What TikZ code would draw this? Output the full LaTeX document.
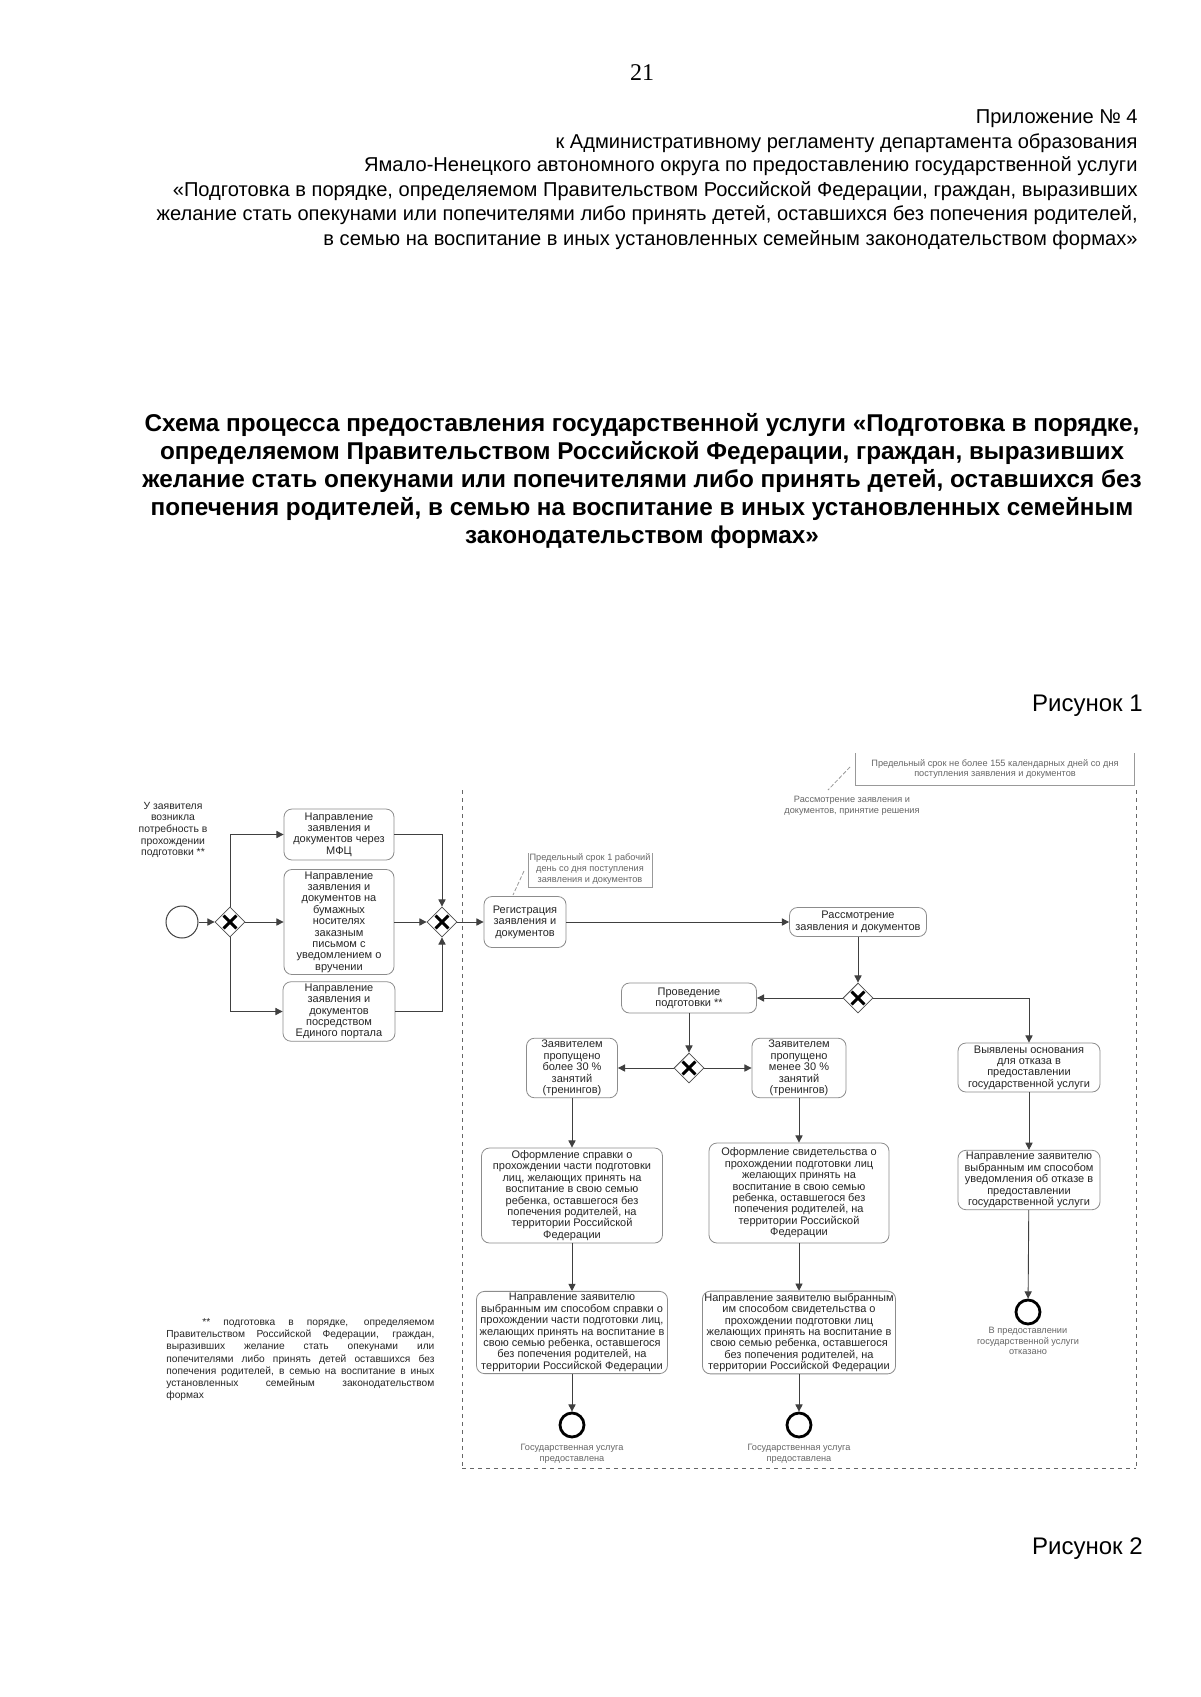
\documentclass[tikz,border=0pt]{standalone}
\usepackage{fontspec}
\setmainfont{Liberation Sans}
\newfontfamily\serifnum{Liberation Serif}
\usetikzlibrary{shapes.geometric,arrows.meta}
\tikzset{
  hdr/.style={anchor=base east, inner sep=0pt, font=\fontsize{10.05}{12}\selectfont},
  ttl/.style={anchor=base, inner sep=0pt, font=\fontsize{12.15}{14}\selectfont\bfseries},
  box/.style={draw=black!45, rounded corners=4pt, line width=0.4pt, align=center,
    font=\fontsize{5.5}{5.7}\selectfont, text=black!85, inner sep=1pt},
  gw/.style={diamond, draw=black!70, line width=0.4pt, minimum width=15pt, minimum height=15pt,
    inner sep=0pt, fill=white,
    path picture={\draw[line width=1.5pt, black]
      ([shift={(-3.2pt,-3.2pt)}]path picture bounding box.center) -- ([shift={(3.2pt,3.2pt)}]path picture bounding box.center)
      ([shift={(-3.2pt,3.2pt)}]path picture bounding box.center) -- ([shift={(3.2pt,-3.2pt)}]path picture bounding box.center);}},
  startev/.style={circle, draw=black!75, line width=0.5pt, minimum size=16pt, inner sep=0pt},
  endev/.style={circle, draw=black, line width=1.4pt, minimum size=12pt, inner sep=0pt},
  flow/.style={draw=black!75, line width=0.45pt, -{Triangle[length=3.6pt,width=3.6pt]}},
  lbl/.style={font=\fontsize{4.6}{5.4}\selectfont, text=black!60, align=center, inner sep=0pt},
  small/.style={font=\fontsize{5.2}{5.85}\selectfont, text=black!85, align=center, inner sep=0pt},
  lane/.style={draw=black!60, dash pattern=on 2pt off 2pt, line width=0.4pt},
  ann/.style={draw=black!40, line width=0.4pt},
}
\begin{document}
\begin{tikzpicture}[x=0.5pt,y=-0.5pt]
\useasboundingbox (0,0) rectangle (1200,1697);
\fill[white] (0,0) rectangle (1200,1697);

% page number
\node[anchor=base, inner sep=0pt, font=\serifnum\fontsize{12}{14}\selectfont] (pg) at (642,80) {21};

% header
\node[hdr] (h1) at (1138,123) {Приложение № 4};
\node[hdr] (h2) at (1138,148) {к Административному регламенту департамента образования};
\node[hdr] (h3) at (1138,171.5) {Ямало-Ненецкого автономного округа по предоставлению государственной услуги};
\node[hdr] (h4) at (1138,196) {«Подготовка в порядке, определяемом Правительством Российской Федерации, граждан, выразивших};
\node[hdr] (h5) at (1138,220) {желание стать опекунами или попечителями либо принять детей, оставшихся без попечения родителей,};
\node[hdr] (h6) at (1138,245) {в семью на воспитание в иных установленных семейным законодательством формах»};

% title
\node[ttl] (t1) at (642,431) {Схема процесса предоставления государственной услуги «Подготовка в порядке,};
\node[ttl] (t2) at (642,459) {определяемом Правительством Российской Федерации, граждан, выразивших};
\node[ttl] (t3) at (642,487) {желание стать опекунами или попечителями либо принять детей, оставшихся без};
\node[ttl] (t4) at (642,515) {попечения родителей, в семью на воспитание в иных установленных семейным};
\node[ttl] (t5) at (642,543.5) {законодательством формах»};

\node[anchor=base east, inner sep=0pt, font=\fontsize{12}{14}\selectfont] (fig1) at (1143,711) {Рисунок 1};
\node[anchor=base east, inner sep=0pt, font=\fontsize{12}{14}\selectfont] (fig2) at (1143,1554) {Рисунок 2};

% lanes
\draw[lane] (462,790) -- (462,1468);
\draw[lane] (1136,790) -- (1136,1468);
\draw[lane] (462,1468) -- (1136,1468);

% annotation top right
\node[lbl] (ann2) at (995,769) {Предельный срок не более 155 календарных дней со дня\\поступления заявления и документов};
\draw[ann] (855,753) -- (855,785) -- (1134,785) -- (1134,753);
\coordinate (a2s) at (850,767);
\coordinate (a2e) at (828,790);
\draw[ann, dash pattern=on 2pt off 1pt] (a2s) -- (a2e);
\node[lbl] (lanelbl) at (852,806) {Рассмотрение заявления и\\документов, принятие решения};

% first lane
\node[small] (appl) at (173,830) {У заявителя\\возникла\\потребность в\\прохождении\\подготовки **};
\node[startev] (start) at (182,922) {};
\node[gw] (gw1) at (230,922) {};
\node[box, minimum width=55pt, minimum height=25.5pt] (b1) at (339,834.5) {Направление\\заявления и\\документов через\\МФЦ};
\node[box, minimum width=55pt, minimum height=52.5pt] (b2) at (339,922) {Направление\\заявления и\\документов на\\бумажных\\носителях\\заказным\\письмом с\\уведомлением о\\вручении};
\node[box, minimum width=56pt, minimum height=28.5pt] (b3) at (339,1011.5) {Направление\\заявления и\\документов\\посредством\\Единого портала};
\node[gw] (gw2) at (442,922) {};

\draw[flow] (start) -- (gw1);
\draw[flow] (gw1.north) |- (b1.west);
\draw[flow] (gw1) -- (b2);
\draw[flow] (gw1.south) |- (b3.west);
\draw[flow] (b1.east) -| (gw2.north);
\draw[flow] (b2) -- (gw2);
\draw[flow] (b3.east) -| (gw2.south);

% registration
\node[box, minimum width=41pt, minimum height=25.5pt] (reg) at (525,922) {Регистрация\\заявления и\\документов};
\node[lbl] (ann1) at (590,869) {Предельный срок 1 рабочий\\день со дня поступления\\заявления и документов};
\draw[ann] (528,853) -- (528,887) -- (652,887) -- (652,853);
\coordinate (a1s) at (524,871);
\coordinate (a1e) at (513,895);
\draw[ann, dash pattern=on 2pt off 1pt] (a1s) -- (a1e);
\draw[flow] (gw2) -- (reg);

% consideration
\node[box, minimum width=68.5pt, minimum height=14.5pt] (ras) at (858,922) {Рассмотрение\\заявления и документов};
\draw[flow] (reg) -- (ras);
\node[gw] (gw3) at (858,998) {};
\draw[flow] (ras) -- (gw3);

\node[box, minimum width=67.5pt, minimum height=15pt] (prov) at (689,998) {Проведение\\подготовки **};
\draw[flow] (gw3) -- (prov);

\node[box, minimum width=71pt, minimum height=24.5pt] (refuse) at (1029,1067.5) {Выявлены основания\\для отказа в\\предоставлении\\государственной услуги};
\draw[flow] (gw3.east) -| (refuse.north);

\node[gw] (gw4) at (689,1068) {};
\draw[flow] (prov) -- (gw4);
\node[box, minimum width=45.5pt, minimum height=29pt] (less) at (572,1068) {Заявителем\\пропущено\\более 30 \%\\занятий\\(тренингов)};
\node[box, minimum width=47pt, minimum height=29pt] (more) at (799,1068) {Заявителем\\пропущено\\менее 30 \%\\занятий\\(тренингов)};
\draw[flow] (gw4) -- (less);
\draw[flow] (gw4) -- (more);

\node[box, minimum width=90.5pt, minimum height=47.5pt] (spr) at (572,1195.5) {Оформление справки о\\прохождении части подготовки\\лиц, желающих принять на\\воспитание в свою семью\\ребенка, оставшегося без\\попечения родителей, на\\территории Российской\\Федерации};
\node[box, minimum width=90pt, minimum height=50pt] (svid) at (799,1193) {Оформление свидетельства о\\прохождении подготовки лиц\\желающих принять на\\воспитание в свою семью\\ребенка, оставшегося без\\попечения родителей, на\\территории Российской\\Федерации};
\draw[flow] (less) -- (spr);
\draw[flow] (more) -- (svid);

\node[box, minimum width=95.5pt, minimum height=40.5pt] (sendL) at (572,1332.5) {Направление заявителю\\выбранным им способом справки о\\прохождении части подготовки лиц,\\желающих принять на воспитание в\\свою семью ребенка, оставшегося\\без попечения родителей, на\\территории Российской Федерации};
\node[box, minimum width=96pt, minimum height=40.5pt] (sendR) at (799,1332.5) {Направление заявителю выбранным\\им способом свидетельства о\\прохождении подготовки лиц\\желающих принять на воспитание в\\свою семью ребенка, оставшегося\\без попечения родителей, на\\территории Российской Федерации};
\draw[flow] (spr) -- (sendL);
\draw[flow] (svid) -- (sendR);

\node[endev] (endL) at (572,1425) {};
\node[endev] (endM) at (799,1425) {};
\draw[flow] (sendL) -- (endL);
\draw[flow] (sendR) -- (endM);
\node[lbl] (endLl) at (572,1454) {Государственная услуга\\предоставлена};
\node[lbl] (endMl) at (799,1454) {Государственная услуга\\предоставлена};

\node[box, minimum width=71pt, minimum height=25pt] (refsend) at (1029,1180) {Направление заявителю\\выбранным им способом\\уведомления об отказе в\\предоставлении\\государственной услуги};
\draw[flow] (refuse) -- (refsend);
\node[endev] (endR) at (1028,1312) {};
\draw[flow] (refsend) -- (endR);
\node[lbl] (endRl) at (1028,1341) {В предоставлении\\государственной услуги\\отказано};

% footnote
\node[anchor=north west, inner sep=0pt, text width=134pt, align=justify, font=\fontsize{5.1}{6.1}\selectfont, text=black!85] (foot) at (166,1318)
{\hspace*{18pt}** подготовка в порядке, определяемом\linebreak
Правительством Российской Федерации, граждан,\linebreak
выразивших желание стать опекунами или\linebreak
попечителями либо принять детей оставшихся без\linebreak
попечения родителей, в семью на воспитание в иных\linebreak
установленных семейным законодательством\linebreak
формах};
\end{tikzpicture}
\end{document}
